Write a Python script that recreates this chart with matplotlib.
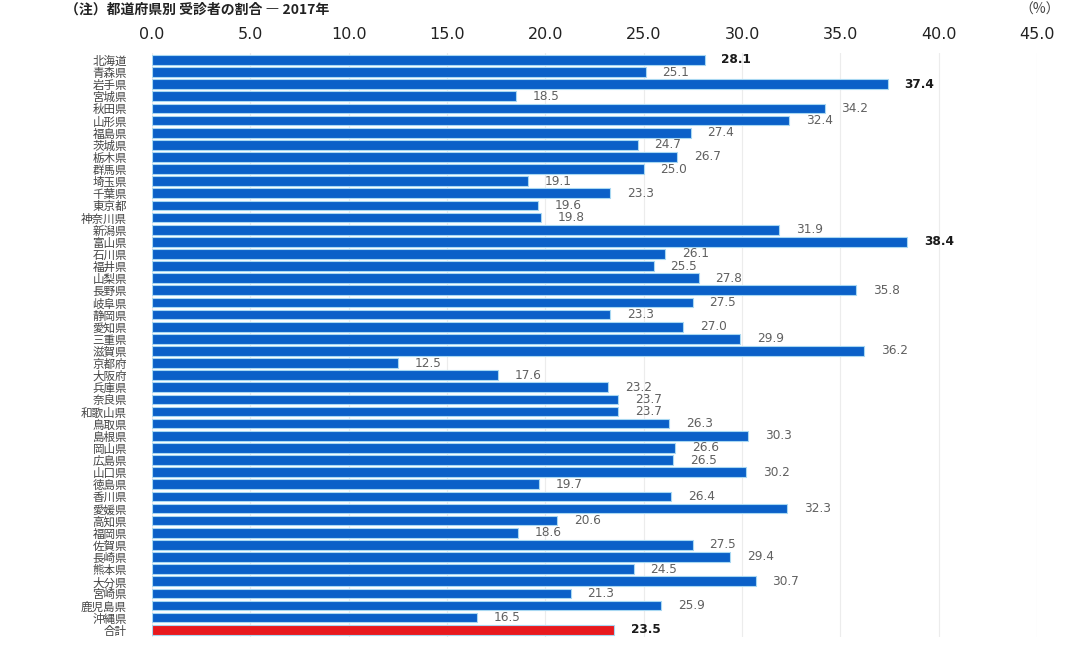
import matplotlib.pyplot as plt
import numpy as np

plt.rcParams['font.family'] = ['Noto Sans CJK JP', 'DejaVu Sans']

# data
prefs = ['北海道', '青森県', '岩手県', '宮城県', '秋田県', '山形県', '福島県', '茨城県',
         '栃木県', '群馬県', '埼玉県', '千葉県', '東京都', '神奈川県', '新潟県', '富山県',
         '石川県', '福井県', '山梨県', '長野県', '岐阜県', '静岡県', '愛知県', '三重県',
         '滋賀県', '京都府', '大阪府', '兵庫県', '奈良県', '和歌山県', '鳥取県', '島根県',
         '岡山県', '広島県', '山口県', '徳島県', '香川県', '愛媛県', '高知県', '福岡県',
         '佐賀県', '長崎県', '熊本県', '大分県', '宮崎県', '鹿児島県', '沖縄県', '合計']
values = [28.1, 25.1, 37.4, 18.5, 34.2, 32.4, 27.4, 24.7,
          26.7, 25.0, 19.1, 23.3, 19.6, 19.8, 31.9, 38.4,
          26.1, 25.5, 27.8, 35.8, 27.5, 23.3, 27.0, 29.9,
          36.2, 12.5, 17.6, 23.2, 23.7, 23.7, 26.3, 30.3,
          26.6, 26.5, 30.2, 19.7, 26.4, 32.3, 20.6, 18.6,
          27.5, 29.4, 24.5, 30.7, 21.3, 25.9, 16.5, 23.5]
xticks = [0, 5, 10, 15, 20, 25, 30, 35, 40, 45]

fig = plt.figure(figsize=(10.76, 6.52), dpi=100)
ax = fig.add_axes([0.1413, 0.023, 0.8225, 0.8962])

y = np.arange(len(values))
colors = ['#0b60c8'] * (len(values) - 1) + ['#e8191e']
ax.barh(y, values, height=0.8, color=colors, edgecolor='#a8d8f2', linewidth=0.8, zorder=3)

# value labels
dark = {0, 2, 15, 47}
for i, v in enumerate(values):
    ax.annotate(f'{v:.1f}', (v, i), xytext=(12, 0), textcoords='offset points',
                va='center', ha='left', fontsize=8.7, family='DejaVu Sans',
                fontweight='bold' if i in dark else 'normal',
                color='#1a1a1a' if i in dark else '#606060')

ax.set_xlim(0, 45)
ax.set_ylim(len(values) - 0.4, -0.6)
ax.set_xticks(xticks)
ax.set_xticklabels([f'{t:.1f}' for t in xticks], family='DejaVu Sans', fontsize=11.5, color='#222222')
for lab, t in zip(ax.get_xticklabels(), xticks):
    if t in (35, 45):
        lab.set_color('#888888')
ax.xaxis.tick_top()
ax.tick_params(axis='x', length=0, pad=8)

ax.set_yticks(y)
ax.set_yticklabels(prefs, fontsize=8.3, color='#444444')
ax.tick_params(axis='y', length=0, pad=18)

ax.grid(axis='x', color='#ececec', linewidth=0.8, zorder=0)
for s in ax.spines.values():
    s.set_visible(False)

# title strip at the top edge
fig.text(0.06, 0.985, '（注）都道府県別 受診者の割合 ― 2017年', fontsize=10,
         fontweight='bold', va='center', ha='left', color='#222222')
fig.text(0.985, 0.985, '（%）', fontsize=10, va='center', ha='right', color='#444444')

fig.savefig('out.png', dpi=100)
